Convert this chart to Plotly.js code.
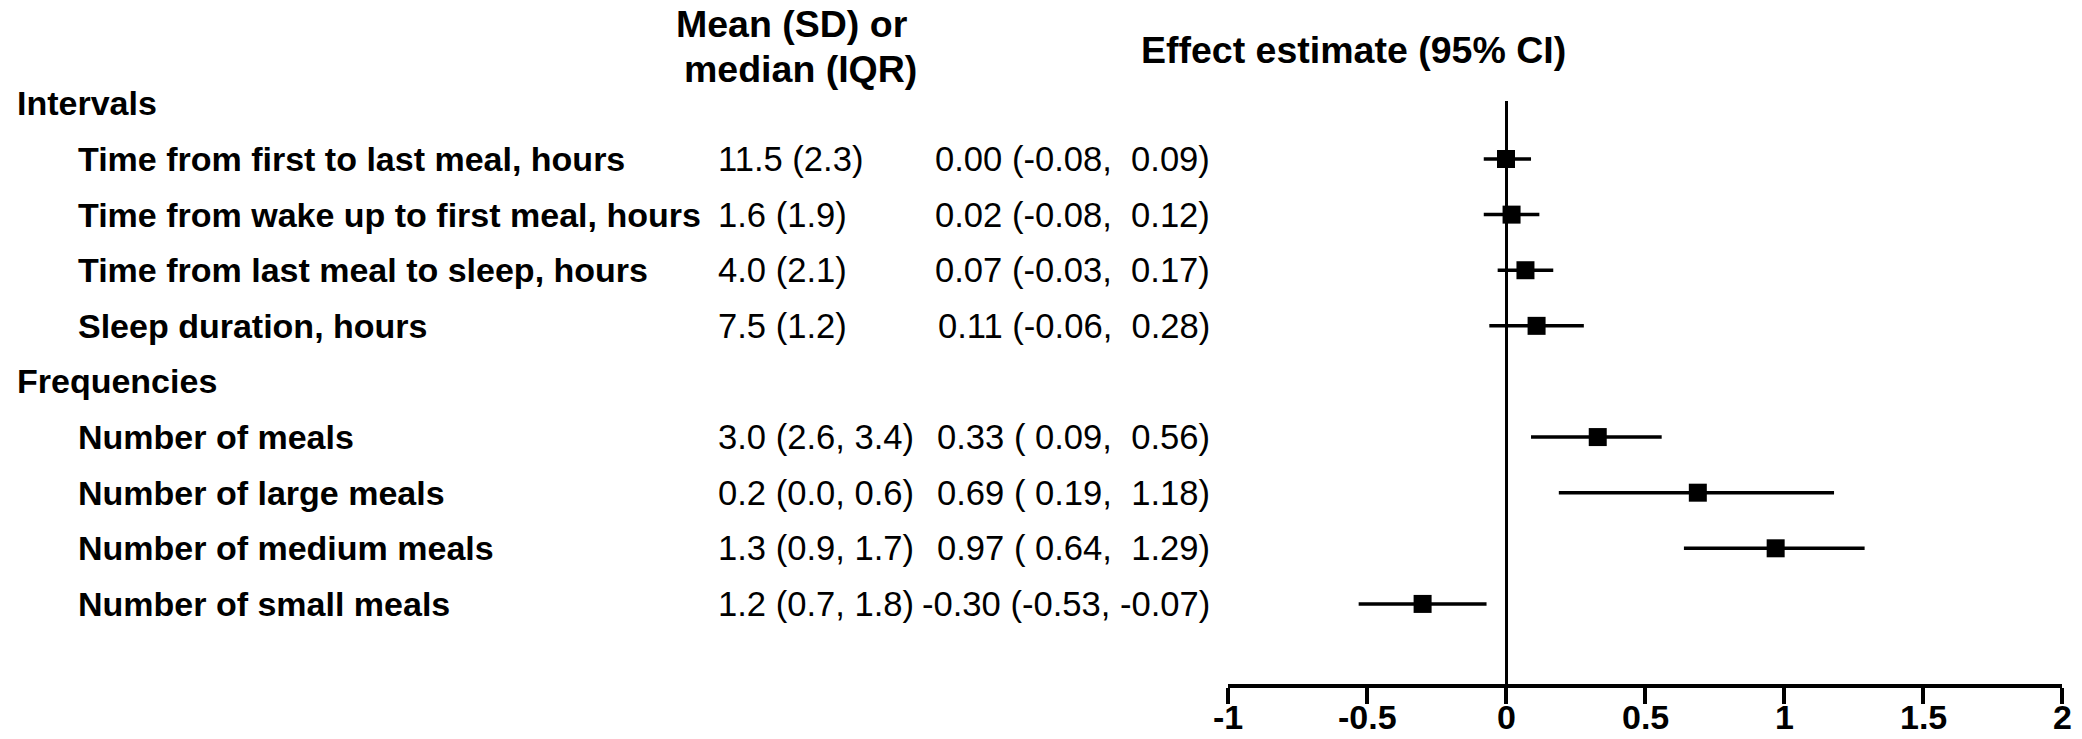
<!DOCTYPE html>
<html><head><meta charset="utf-8">
<script src="https://cdn.plot.ly/plotly-3.0.1.min.js"></script>
<style>html,body{margin:0;padding:0;background:#fff}#chart{width:2082px;height:739px}</style>
</head><body><div id="chart"></div>
<script>
// ---- data ----
const groupNames = ["Intervals", "Frequencies"];
const groupOf = [0, 0, 0, 0, 1, 1, 1, 1];
const labels = [
  "Time from first to last meal, hours",
  "Time from wake up to first meal, hours",
  "Time from last meal to sleep, hours",
  "Sleep duration, hours",
  "Number of meals",
  "Number of large meals",
  "Number of medium meals",
  "Number of small meals"
];
const meanText = ["11.5 (2.3)", "1.6 (1.9)", "4.0 (2.1)", "7.5 (1.2)",
                  "3.0 (2.6, 3.4)", "0.2 (0.0, 0.6)", "1.3 (0.9, 1.7)", "1.2 (0.7, 1.8)"];
const est = [0.00, 0.02, 0.07, 0.11, 0.33, 0.69, 0.97, -0.30];
const lo  = [-0.08, -0.08, -0.03, -0.06, 0.09, 0.19, 0.64, -0.53];
const hi  = [0.09, 0.12, 0.17, 0.28, 0.56, 1.18, 1.29, -0.07];
const xTickVals = [-1, -0.5, 0, 0.5, 1, 1.5, 2];
const xTickText = ["-1", "-0.5", "0", "0.5", "1", "1.5", "2"];
const headerMean = ["Mean (SD) or", "median (IQR)"];
const headerEffect = "Effect estimate (95% CI)";

// ---- layout geometry ----
const W = 2082, H = 739;
const mL = 1228, mR = 20, mT = 101, mB = 55;
const plotW = W - mL - mR, plotH = H - mT - mB;
const px = p => (p - mL) / plotW;          // pixel x -> paper x
const py = p => (H - mB - p) / plotH;      // pixel y -> paper y

// row positions: group header then its items
const headerPos = [];
const itemPos = [];
let k = 0;
groupNames.forEach((g, gi) => {
  headerPos.push(k); k++;
  groupOf.forEach((go, i) => { if (go === gi) { itemPos[i] = k; k++; } });
});

const fam = "Liberation Sans, Arial, Helvetica, sans-serif";
const NB = "\u00a0";
const pad = v => (v < 0 ? v.toFixed(2) : NB + v.toFixed(2));
const effText = est.map((e, i) => e.toFixed(2) + " (" + pad(lo[i]) + "," + NB + pad(hi[i]) + ")");

const boldFont = {family: fam, size: 34, weight: 700, color: "#000"};
const regFont = {family: fam, size: 34.6, color: "#000"};
const headFont = {family: fam, size: 37.5, weight: 700, color: "#000"};
const tickFont = {family: fam, size: 34, weight: 700, color: "#000"};

const annotations = [];
groupNames.forEach((g, gi) => annotations.push({
  text: g, xref: "paper", yref: "y", x: px(15), y: headerPos[gi],
  xanchor: "left", yanchor: "middle", showarrow: false, font: boldFont
}));
labels.forEach((t, i) => {
  annotations.push({text: t, xref: "paper", yref: "y", x: px(76), y: itemPos[i],
    xanchor: "left", yanchor: "middle", showarrow: false, font: boldFont});
  annotations.push({text: meanText[i], xref: "paper", yref: "y", x: px(716), y: itemPos[i],
    xanchor: "left", yanchor: "middle", showarrow: false, font: regFont});
  annotations.push({text: effText[i], xref: "paper", yref: "y", x: px(1212), y: itemPos[i],
    xanchor: "right", yanchor: "middle", showarrow: false, font: regFont});
});
annotations.push({text: headerMean[0], xref: "paper", yref: "paper", x: px(792), y: py(24),
  xanchor: "center", yanchor: "middle", showarrow: false, font: headFont});
annotations.push({text: headerMean[1], xref: "paper", yref: "paper", x: px(800), y: py(69),
  xanchor: "center", yanchor: "middle", showarrow: false, font: headFont});
annotations.push({text: headerEffect, xref: "paper", yref: "paper", x: px(1353), y: py(50),
  xanchor: "center", yanchor: "middle", showarrow: false, font: headFont});
// tick labels placed directly under the tick marks
xTickVals.forEach((v, i) => annotations.push({
  text: xTickText[i], xref: "x", yref: "paper", x: v, y: py(697),
  xanchor: "center", yanchor: "top", showarrow: false, font: tickFont,
  borderpad: 0
}));

const trace = {
  type: "scatter", mode: "markers",
  x: est, y: itemPos,
  marker: {symbol: "square", size: 18, color: "#000"},
  error_x: {type: "data", symmetric: false,
            array: hi.map((h, i) => h - est[i]),
            arrayminus: est.map((e, i) => e - lo[i]),
            thickness: 3.5, width: 0, color: "#000"},
  cliponaxis: false, hoverinfo: "skip"
};

const layout = {
  width: W, height: H,
  margin: {l: mL, r: mR, t: mT, b: mB, pad: 0},
  paper_bgcolor: "#fff", plot_bgcolor: "#fff",
  showlegend: false,
  xaxis: {range: [-1, 2], tickvals: xTickVals, showticklabels: false,
          showgrid: false, zeroline: true, zerolinecolor: "#000", zerolinewidth: 3,
          showline: true, linecolor: "#000", linewidth: 4,
          ticks: "outside", ticklen: 16, tickwidth: 4, tickcolor: "#000",
          fixedrange: true},
  yaxis: {range: [10.44, -0.043], visible: false, showgrid: false, zeroline: false, fixedrange: true},
  annotations: annotations
};

Plotly.newPlot("chart", [trace], layout, {staticPlot: true, displayModeBar: false});
</script>
</body></html>
